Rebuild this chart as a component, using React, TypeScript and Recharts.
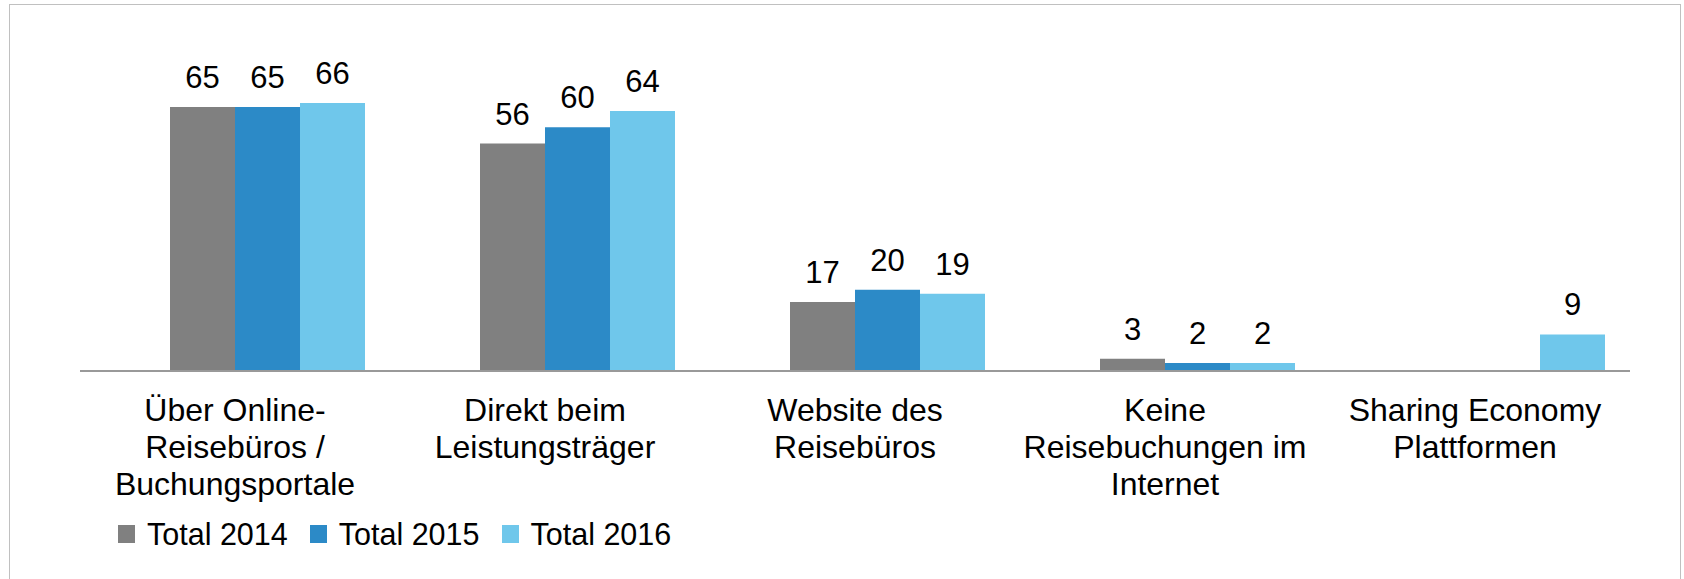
import { BarChart, Bar, XAxis, YAxis, LabelList } from 'recharts';

const CATEGORIES = [
  'Über Online-\nReisebüros /\nBuchungsportale',
  'Direkt beim\nLeistungsträger',
  'Website des\nReisebüros',
  'Keine\nReisebuchungen im\nInternet',
  'Sharing Economy\nPlattformen',
];

const TOTAL_2014 = [65, 56, 17, 3, null];
const TOTAL_2015 = [65, 60, 20, 2, null];
const TOTAL_2016 = [66, 64, 19, 2, 9];

const SERIES = [
  { key: 'y2014', name: 'Total 2014', color: '#808080' },
  { key: 'y2015', name: 'Total 2015', color: '#2c8ac7' },
  { key: 'y2016', name: 'Total 2016', color: '#6fc7eb' },
];

const FONT = '"Liberation Sans", Arial, sans-serif';

const data = CATEGORIES.map((cat, i) => ({
  cat,
  y2014: TOTAL_2014[i],
  y2015: TOTAL_2015[i],
  y2016: TOTAL_2016[i],
}));

// multi-line category label under the axis
function CategoryTick({ x, y, payload }: any) {
  const lines = String(payload.value).split('\n');
  return (
    <text x={x} y={y} textAnchor="middle" fontSize={32} fill="#000" fontFamily={FONT}>
      {lines.map((line, i) => (
        <tspan key={i} x={x} dy={i === 0 ? 50 : 37}>
          {line}
        </tspan>
      ))}
    </text>
  );
}

export default function App() {
  return (
    <div
      style={{
        position: 'absolute',
        left: 0,
        top: 0,
        width: 1684,
        height: 579,
        overflow: 'hidden',
        background: '#fff',
        fontFamily: FONT,
      }}
    >
      {/* outer frame */}
      <div
        style={{
          position: 'absolute',
          left: 9,
          top: 4,
          width: 1672,
          height: 620,
          border: '1.5px solid #c0c0c0',
          boxSizing: 'border-box',
        }}
      />

      <div style={{ position: 'absolute', left: 0, top: 0 }}>
        <BarChart
          width={1684}
          height={579}
          data={data}
          margin={{ top: 46, right: 54, left: 80, bottom: 58 }}
          barCategoryGap={57}
          barGap={0}
        >
          <XAxis
            xAxisId="bars"
            dataKey="cat"
            hide
            height={0}
            padding={{ left: 33, right: -33 }}
          />
          <XAxis
            xAxisId="labels"
            dataKey="cat"
            height={150}
            tickLine={false}
            tickSize={0}
            tickMargin={0}
            axisLine={{ stroke: '#999999', strokeWidth: 2 }}
            tick={<CategoryTick />}
            interval={0}
          />
          <YAxis hide domain={[0, 80]} />
          {SERIES.map((s) => (
            <Bar
              key={s.key}
              xAxisId="bars"
              dataKey={s.key}
              name={s.name}
              fill={s.color}
              isAnimationActive={false}
            >
              <LabelList
                dataKey={s.key}
                position="top"
                offset={19}
                fill="#000"
                style={{ fontSize: 31, fontFamily: FONT }}
              />
            </Bar>
          ))}
        </BarChart>
      </div>

      {/* legend */}
      <div
        style={{
          position: 'absolute',
          left: 118,
          top: 516,
          display: 'flex',
          alignItems: 'center',
          gap: 22,
          fontSize: 30.5,
          color: '#000',
          lineHeight: '36px',
        }}
      >
        {SERIES.map((s) => (
          <div key={s.key} style={{ display: 'flex', alignItems: 'center', gap: 12 }}>
            <span style={{ width: 17, height: 18, background: s.color, display: 'inline-block' }} />
            <span>{s.name}</span>
          </div>
        ))}
      </div>
    </div>
  );
}
